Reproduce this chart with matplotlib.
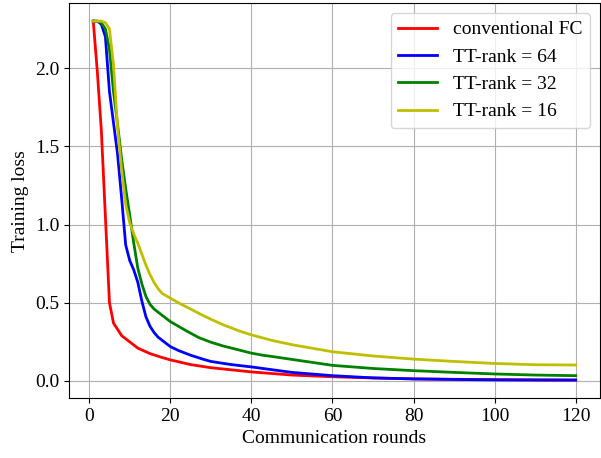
import matplotlib
import matplotlib.pyplot as plt

matplotlib.use('Agg')

plt.rcParams['font.family'] = ['Liberation Serif', 'DejaVu Serif']
plt.rcParams['font.size'] = 14

# conventional FC
rounds_fc = [1, 2, 3, 4, 5, 6, 7, 8, 10, 12, 15, 18, 20, 25, 30, 40,
             50, 60, 70, 80, 90, 100, 110, 120]
loss_fc = [2.30, 1.98, 1.60, 1.05, 0.50, 0.37, 0.33, 0.29, 0.25,
           0.21, 0.175, 0.15, 0.135, 0.105, 0.085, 0.058, 0.038, 0.027,
           0.019, 0.014, 0.011, 0.009, 0.007, 0.006]

# TT-rank = 64
rounds_64 = [1, 2, 3, 4, 5, 6, 7, 8, 9, 10, 11, 12, 13, 14, 15, 16, 17, 18,
             20, 22, 25, 28, 30, 35, 40, 50, 60, 70, 80, 100, 120]
loss_64 = [2.30, 2.30, 2.28, 2.20, 1.85, 1.65, 1.45, 1.17, 0.87, 0.77,
           0.71, 0.63, 0.51, 0.41, 0.35, 0.31, 0.28, 0.26, 0.22, 0.195,
           0.165, 0.14, 0.125, 0.105, 0.09, 0.055, 0.034, 0.02, 0.013,
           0.007, 0.006]

# TT-rank = 32
rounds_32 = [1, 2, 3, 4, 5, 6, 7, 8, 9, 10, 11, 12, 13, 14, 15, 16, 18, 20,
             22, 24, 27, 30, 33, 37, 40, 43, 45, 50, 60, 70, 80, 90, 100,
             110, 120]
loss_32 = [2.30, 2.30, 2.29, 2.25, 2.12, 1.85, 1.64, 1.42, 1.23, 1.06,
           0.88, 0.72, 0.62, 0.54, 0.49, 0.46, 0.42, 0.38, 0.35, 0.32,
           0.278, 0.248, 0.224, 0.198, 0.178, 0.164, 0.157, 0.138, 0.10,
           0.08, 0.066, 0.055, 0.045, 0.038, 0.034]

# TT-rank = 16
rounds_16 = [1, 2, 3, 4, 5, 6, 7, 8, 9, 10, 11, 12, 13, 14, 15, 16, 17, 18,
             20, 22, 25, 28, 30, 33, 37, 40, 45, 50, 60, 70, 80, 90, 100,
             110, 120]
loss_16 = [2.30, 2.30, 2.30, 2.29, 2.25, 2.02, 1.62, 1.35, 1.13, 1.01,
           0.94, 0.88, 0.81, 0.74, 0.68, 0.63, 0.59, 0.56, 0.53, 0.50,
           0.46, 0.42, 0.395, 0.36, 0.32, 0.295, 0.26, 0.232, 0.187, 0.16,
           0.14, 0.125, 0.112, 0.104, 0.102]

fig = plt.figure(figsize=(6.01, 4.58), dpi=100)
ax = fig.add_axes([0.115, 0.131, 0.883, 0.862])

ax.plot(rounds_fc, loss_fc, color='r', linewidth=2, label='conventional FC')
ax.plot(rounds_64, loss_64, color='b', linewidth=2, label='TT-rank = 64')
ax.plot(rounds_32, loss_32, color='g', linewidth=2, label='TT-rank = 32')
ax.plot(rounds_16, loss_16, color='y', linewidth=2, label='TT-rank = 16')

ax.set_xlabel('Communication rounds')
ax.set_ylabel('Training loss')
ax.set_xticks([0, 20, 40, 60, 80, 100, 120])
ax.set_yticks([0.0, 0.5, 1.0, 1.5, 2.0])
ax.grid(True)
ax.legend(loc='upper right')

fig.savefig('out.png', dpi=100)
